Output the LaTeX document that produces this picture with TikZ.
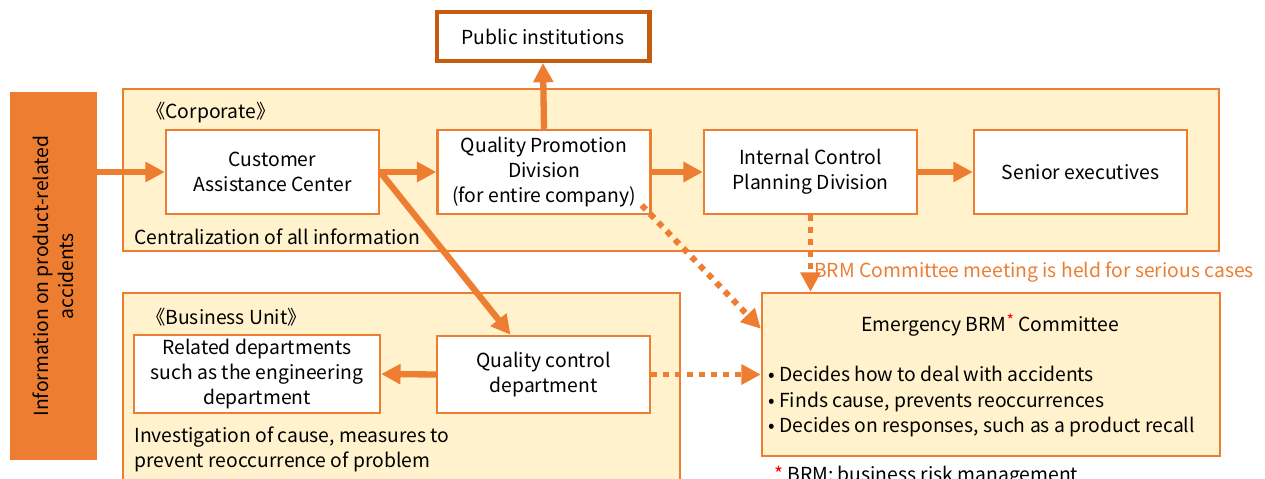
\documentclass[tikz,border=0pt]{standalone}
\usepackage{fontspec}
\setmainfont{Noto Sans CJK JP}
\usetikzlibrary{positioning,arrows.meta}
\definecolor{AccentOrange}{HTML}{ED7D31}
\definecolor{DarkOrange}{HTML}{C55A11}
\definecolor{PanelCream}{HTML}{FFF2CC}

\begin{document}
\begin{tikzpicture}[x=0.02cm,y=-0.02cm,
    font=\fontsize{11}{14.2}\selectfont,
    panel/.style={draw=AccentOrange, fill=PanelCream, line width=1.2pt},
    unitbox/.style={draw=AccentOrange, fill=white, line width=1.4pt, minimum width=4.26cm, minimum height=1.68cm, align=center, inner sep=2pt},
    flow/.style={AccentOrange, line width=3.6pt, -{Triangle[width=11pt,length=11pt]}},
    dotflow/.style={AccentOrange, line width=3.4pt, dash pattern=on 3.4pt off 3.4pt, -{Triangle[width=11pt,length=11pt]}}]
  \useasboundingbox (0,0) rectangle (1265,479);
  % panels
  \draw[panel] (123,89) rectangle (1219,251);
  \draw[panel] (123,293) rectangle (680,495);
  \node[anchor=west] (corplbl) at (140,113) {《Corporate》};
  \node[anchor=west] (centrlbl) at (128,237) {Centralization of all information};
  \node[anchor=west] (bulbl) at (140,317) {《Business Unit》};
  \node[anchor=north west, align=left, inner sep=0pt] (invlbl) at (134,427) {Investigation of cause, measures to\\prevent reoccurrence of problem};
  % information bar
  \node[fill=AccentOrange, minimum width=1.74cm, minimum height=7.36cm, inner sep=0pt] (info) at (53.5,276) {};
  \node[rotate=90, align=center] (infotxt) at (info.center) {Information on product-related\\accidents};
  % boxes
  \node[unitbox] (cac) at (272.5,172) {Customer\\Assistance Center};
  \node[unitbox] (qpd) at (544,172) {Quality Promotion\\Division\\(for entire company)};
  \node[unitbox] (icpd) at (810.5,172) {Internal Control\\Planning Division};
  \node[unitbox] (senior) at (1080.5,172) {Senior executives};
  \node[unitbox, draw=DarkOrange, line width=2.3pt, minimum height=0.98cm] (public) at (543,36.5) {Public institutions};
  \node[unitbox, minimum width=4.92cm, minimum height=1.56cm] (reldep) at (257,374) {Related departments\\such as the engineering\\department};
  \node[unitbox, minimum height=1.54cm] (qc) at (543.5,374.5) {Quality control\\department};
  % emergency committee
  \node[panel, line width=1.4pt, minimum width=9.16cm, minimum height=3.26cm] (emerg) at (991,374.5) {};
  \node (emergttl) at (990,325) {Emergency BRM{\color{red}\raisebox{0.45ex}{\small *}} Committee};
  \node[anchor=north west, align=left, inner sep=0pt, font=\fontsize{11}{14.5}\selectfont] (emergtxt) at (768,366) {• Decides how to deal with accidents\\• Finds cause, prevents reoccurrences\\• Decides on responses, such as a product recall};
  \node[anchor=west, text=AccentOrange] (seriouslbl) at (808,272) {BRM Committee meeting is held for serious cases};
  \node[anchor=west] (brmnote) at (768,476) {{\color{red}*} BRM: business risk management};
  % connectors
  \draw[flow] (info.east |- cac.west) -- (cac.west);
  \draw[flow] (cac.east) -- (qpd.west);
  \draw[flow] (qpd.east) -- (icpd.west);
  \draw[flow] (icpd.east) -- (senior.west);
  \draw[flow] (qpd.north) -- (public.south);
  \draw[flow] (cac.east) -- ([xshift=-0.66cm]qc.north);
  \draw[flow] (qc.west) -- (reldep.east);
  \draw[dotflow] ([xshift=-0.2cm,yshift=0.2cm]qpd.south east) -- ([yshift=-0.74cm]emerg.north west);
  \draw[dotflow] (icpd.south) -- (icpd.south |- emerg.north);
  \draw[dotflow] (qc.east) -- (qc.east -| emerg.west);
\end{tikzpicture}
\end{document}
